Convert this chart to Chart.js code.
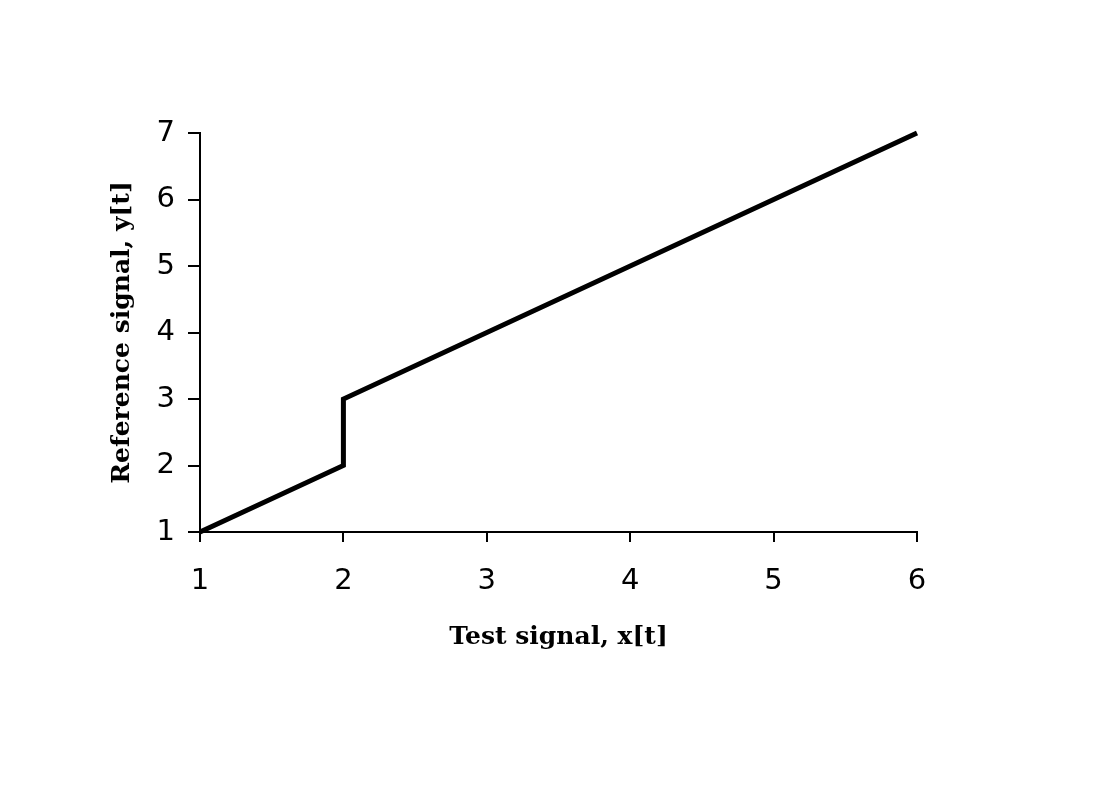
<!DOCTYPE html>
<html>
<head>
<meta charset="utf-8">
<script src="https://cdn.jsdelivr.net/npm/chart.js@4/dist/chart.umd.min.js"></script>
<style>
  html, body { margin: 0; padding: 0; background: #fff; }
  #wrap { width: 1101px; height: 801px; position: relative; }
</style>
</head>
<body>
<div id="wrap"><canvas id="signalChart"></canvas></div>
<script>
// test signal x[t] vs reference signal y[t]
const testSignal = [1, 2, 2, 6];
const refSignal = [1, 2, 3, 7];
const xTicks = [1, 2, 3, 4, 5, 6];
const yTicks = [1, 2, 3, 4, 5, 6, 7];

const points = testSignal.map((x, i) => ({ x: x, y: refSignal[i] }));

const tickFont = { family: 'DejaVu Sans', size: 29 };
const titleFont = { family: 'DejaVu Serif', size: 25, weight: 'bold' };

const ctx = document.getElementById('signalChart').getContext('2d');
const chart = new Chart(ctx, {
    type: 'line',
    data: {
        datasets: [{
            label: 'y[t]',
            data: points,
            borderColor: '#000',
            borderWidth: 5,
            pointRadius: 0,
            tension: 0,
            fill: false,
            clip: false
        }]
    },
    options: {
        responsive: true,
        maintainAspectRatio: false,
        animation: false,
        layout: { padding: { left: 0, top: 133, right: 184, bottom: 0 } },
        plugins: {
            legend: { display: false },
            tooltip: { enabled: false }
        },
        scales: {
            x: {
                type: 'linear',
                min: xTicks[0],
                max: xTicks[xTicks.length - 1],
                afterBuildTicks: s => { s.ticks = xTicks.map(v => ({ value: v })); },
                afterFit: s => { s.height = 269; },
                ticks: { color: '#000', font: tickFont, padding: 22, maxRotation: 0 },
                grid: { drawOnChartArea: false, color: '#000', lineWidth: 2, tickLength: 10 },
                border: { color: '#000', width: 2 },
                title: {
                    display: true,
                    text: 'Test signal, x[t]',
                    color: '#000',
                    font: titleFont,
                    padding: { top: 0, bottom: 149 }
                }
            },
            y: {
                type: 'linear',
                min: yTicks[0],
                max: yTicks[yTicks.length - 1],
                afterBuildTicks: s => { s.ticks = yTicks.map(v => ({ value: v })); },
                afterFit: s => { s.width = 200; },
                ticks: { color: '#000', font: tickFont, padding: 13 },
                grid: { drawOnChartArea: false, color: '#000', lineWidth: 2, tickLength: 12 },
                border: { color: '#000', width: 2 },
                title: {
                    display: true,
                    text: 'Reference signal, y[t]',
                    color: '#000',
                    font: titleFont,
                    padding: { top: 107, bottom: 0 }
                }
            }
        }
    }
});
</script>
</body>
</html>
